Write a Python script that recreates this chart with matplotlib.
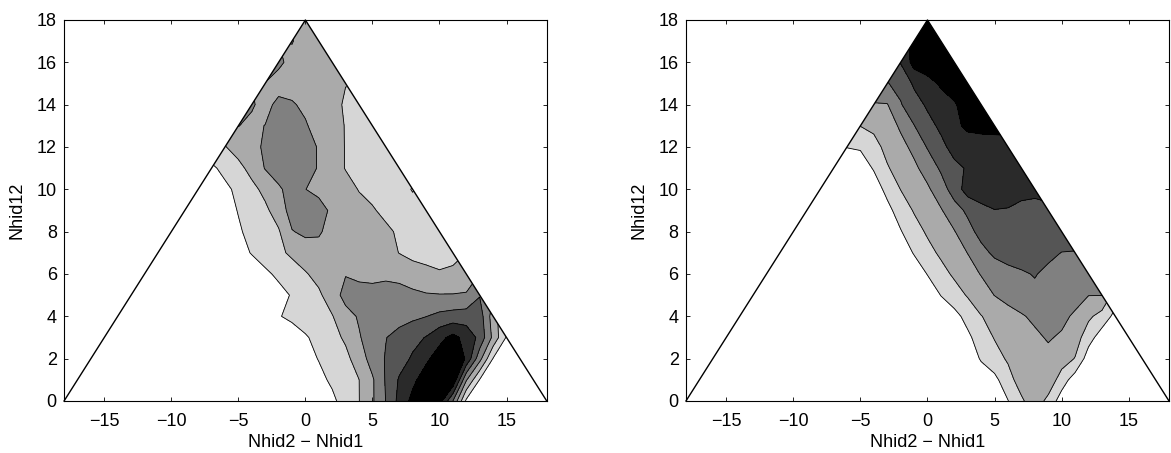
import numpy as np
import matplotlib
matplotlib.use("Agg")
import matplotlib.pyplot as plt
from matplotlib.patches import Polygon

plt.rcParams["font.family"] = ["Liberation Sans", "DejaVu Sans"]

# grid: columns are Nhid2 - Nhid1 = -8..17, rows are Nhid12 = 0..18
# (columns -18..-9 and 18 are empty, they are added as zeros below)
x_stored = np.arange(-8, 18)
x_all = np.arange(-18, 19)
y_all = np.arange(0, 19)

levels = [0.5, 1.5, 2.5, 3.5, 4.5, 5.5]
grays = ["#ffffff", "#d6d6d6", "#aaaaaa", "#808080", "#555555", "#2a2a2a", "#000000"]

xticks = [-15, -10, -5, 0, 5, 10, 15]
yticks = list(range(0, 19, 2))
xlabel = "Nhid2 \u2212 Nhid1"
ylabel = "Nhid12"

left_z = [
    [0, 0, 0, 0, 0, 0, 0, 0, 0, 0, 0.3, 0.9, 1.48, 2.37, 3.52, 4.8, 5.8, 6.5, 6.0, 3.5, 0.3, 0, 0, 0, 0, 0],
    [0, 0, 0, 0, 0, 0, 0, 0, 0, 0.25, 0.66, 1.07, 1.49, 2.37, 3.6, 4.6, 5.27, 6.0, 6.4, 6.4, 2.6, 0.45, 0, 0, 0, 0],
    [0, 0, 0, 0, 0, 0, 0, 0, 0.18, 0.54, 0.9, 1.25, 1.96, 2.93, 3.57, 4.09, 4.63, 5.3, 6.0, 6.5, 5.36, 2.84, 0.45, 0, 0, 0],
    [0, 0, 0, 0, 0, 0, 0, 0, 0.4, 0.79, 1.19, 1.65, 2.42, 2.96, 3.47, 3.84, 4.2, 4.55, 5.19, 5.8, 5.15, 4.23, 2.25, 0.4, 0, 0],
    [0, 0, 0, 0, 0, 0.19, 0.44, 0.71, 0.96, 1.2, 1.45, 2.14, 2.6, 2.78, 2.95, 3.13, 3.3, 3.48, 3.75, 3.9, 4.0, 4.0, 2.0, 0.5, 0, 0],
    [0, 0, 0, 0, 0, 0, 0.2, 0.57, 0.95, 1.34, 2.0, 2.85, 3.0, 3.0, 3.1, 3.0, 2.7, 2.58, 2.55, 2.55, 2.58, 3.45, 2.5, 0, 0, 0],
    [0, 0, 0, 0, 0, 0.32, 0.68, 1.05, 1.42, 1.8, 2.0, 2.45, 2.2, 2.1, 2.2, 2.1, 2.0, 1.8, 1.6, 1.7, 2.0, 2.5, 2.5, 0, 0, 0],
    [0, 0, 0, 0.18, 0.55, 0.92, 1.3, 1.67, 2.0, 2.2, 2.3, 2.2, 2.1, 2.0, 1.8, 1.48, 1.2, 1.1, 1.1, 1.2, 1.5, 2.0, 2.0, 0, 0, 0],
    [0, 0, 0, 0.39, 0.75, 1.1, 1.4, 2.45, 2.7, 2.6, 2.2, 2.1, 2.0, 1.9, 1.7, 1.35, 1.1, 1.1, 1.1, 1.2, 1.5, 2.0, 0, 0, 0, 0],
    [0, 0, 0.16, 0.54, 0.92, 1.3, 1.96, 2.9, 3.1, 3.1, 2.2, 2.0, 1.85, 1.6, 1.25, 1.1, 1.1, 1.2, 1.2, 1.2, 1.2, 1.2, 1.2, 1.2, 1.2, 1.2],
    [0, 0, 0.26, 0.75, 1.23, 1.76, 2.34, 2.9, 2.52, 2.1, 2.0, 1.9, 1.45, 1.2, 1.1, 1.1, 0.4, 1.2, 1.2, 1.2, 1.2, 1.2, 1.2, 1.2, 1.2, 1.2],
    [0, 0.3, 0.8, 1.22, 1.82, 2.55, 3.0, 3.1, 3.0, 2.4, 2.0, 1.45, 1.2, 1.1, 1.1, 1.2, 1.2, 1.2, 1.2, 1.2, 1.2, 1.2, 1.2, 1.2, 1.2, 1.2],
    [0.5, 1.2, 1.45, 1.9, 2.2, 2.65, 3.1, 3.2, 3.0, 2.4, 2.0, 1.45, 1.2, 1.1, 1.2, 1.2, 1.2, 1.2, 1.2, 1.2, 1.2, 1.2, 1.2, 1.2, 1.2, 1.2],
    [0.8, 1.5, 2.0, 2.52, 2.3, 2.52, 3.1, 3.2, 2.6, 2.1, 1.9, 1.45, 1.2, 1.2, 1.2, 1.2, 1.2, 1.2, 1.2, 1.2, 1.2, 1.2, 1.2, 1.2, 1.2, 1.2],
    [1.2, 2.0, 2.5, 2.6, 2.6, 2.2, 2.75, 2.6, 2.3, 2.0, 1.75, 1.4, 1.2, 1.2, 1.2, 1.2, 1.2, 1.2, 1.2, 1.2, 1.2, 1.2, 1.2, 1.2, 1.2, 1.2],
    [2.0, 2.3, 2.5, 2.5, 2.5, 2.49, 2.1, 2.1, 2.0, 2.0, 1.9, 1.52, 1.52, 1.52, 1.52, 1.52, 1.52, 1.52, 1.52, 1.52, 1.52, 1.52, 1.52, 1.52, 1.52, 1.52],
    [2.5, 2.5, 2.5, 2.5, 2.6, 2.7, 2.7, 2.2, 2.1, 2.0, 2.0, 2.0, 2.0, 2.0, 2.0, 2.0, 2.0, 2.0, 2.0, 2.0, 2.0, 2.0, 2.0, 2.0, 2.0, 2.0],
    [2.5, 2.5, 2.5, 2.5, 2.5, 2.5, 2.5, 2.55, 2.1, 2.0, 2.0, 2.0, 2.0, 2.0, 2.0, 2.0, 2.0, 2.0, 2.0, 2.0, 2.0, 2.0, 2.0, 2.0, 2.0, 2.0],
    [2.3, 2.3, 2.3, 2.3, 2.3, 2.3, 2.3, 2.3, 2.1, 2.0, 2.0, 2.0, 2.0, 2.0, 2.0, 2.0, 2.0, 2.0, 2.0, 2.0, 2.0, 2.0, 2.0, 2.0, 2.0, 2.0],
]

right_z = [
    [0, 0, 0, 0, 0, 0, 0, 0, 0, 0, 0, 0, 0, 0, 0.47, 1.33, 2.1, 1.2, 0, 0, 0, 0, 0, 0, 0, 0],
    [0, 0, 0, 0, 0, 0, 0, 0, 0, 0, 0, 0, 0, 0.24, 1.11, 1.98, 2.3, 2.2, 1.0, 0, 0, 0, 0, 0, 0, 0],
    [0, 0, 0, 0, 0, 0, 0, 0, 0, 0, 0, 0, 0.58, 1.1, 1.63, 2.0, 2.2, 2.2, 2.0, 1.45, 0, 0, 0, 0, 0, 0],
    [0, 0, 0, 0, 0, 0, 0, 0, 0, 0, 0, 0.3, 0.97, 1.56, 1.86, 2.15, 2.3, 2.6, 2.35, 2.0, 0.9, 0, 0, 0, 0, 0],
    [0, 0, 0, 0, 0, 0, 0, 0, 0, 0, 0.18, 0.83, 1.47, 1.8, 2.05, 2.4, 2.7, 3.0, 2.8, 2.3, 1.7, 1.1, 0.2, 0, 0, 0],
    [0, 0, 0, 0, 0, 0, 0, 0, 0, 0.52, 1.05, 1.59, 2.05, 2.52, 2.9, 3.1, 3.3, 3.3, 3.2, 3.0, 2.52, 2.52, 1.0, 0, 0, 0],
    [0, 0, 0, 0, 0, 0, 0, 0, 0.53, 1.14, 1.67, 2.1, 2.55, 2.9, 3.2, 3.4, 3.55, 3.3, 3.1, 3.0, 3.0, 3.0, 2.0, 0, 0, 0],
    [0, 0, 0, 0, 0, 0, 0, 0.56, 1.17, 1.68, 2.1, 2.52, 3.17, 3.7, 3.9, 3.9, 3.9, 3.7, 3.48, 3.45, 3.45, 3.0, 0, 0, 0, 0],
    [0, 0, 0, 0, 0, 0, 0.44, 1.08, 1.64, 2.05, 2.45, 3.14, 3.85, 4.2, 4.3, 4.35, 4.3, 4.1, 4.0, 4.0, 3.5, 0, 0, 0, 0, 0],
    [0, 0, 0, 0, 0, 0.22, 0.93, 1.58, 2.0, 2.42, 3.07, 3.7, 4.2, 4.47, 4.4, 4.2, 4.1, 4.3, 4.3, 4.3, 4.0, 0, 0, 0, 0, 0],
    [0, 0, 0, 0, 0, 0.77, 1.52, 1.94, 2.35, 3.02, 3.97, 4.94, 5.1, 5.1, 5.2, 4.85, 4.8, 4.8, 4.8, 4.8, 4.8, 0, 0, 0, 0, 0],
    [0, 0, 0, 0, 0.58, 1.42, 1.88, 2.3, 2.9, 3.65, 4.25, 4.6, 5.1, 5.2, 5.2, 5.2, 5.2, 5.2, 5.2, 5.2, 0, 0, 0, 0, 0, 0],
    [0, 0, 0.52, 0.6, 1.19, 1.76, 2.2, 2.75, 3.57, 4.23, 4.85, 5.0, 5.1, 5.15, 5.2, 5.4, 5.4, 5.4, 5.4, 0, 0, 0, 0, 0, 0, 0],
    [0, 0.5, 1.0, 1.52, 1.7, 2.02, 2.65, 3.47, 4.17, 4.7, 5.27, 5.7, 5.75, 5.75, 5.75, 5.75, 5.75, 5.75, 0, 0, 0, 0, 0, 0, 0, 0],
    [0, 0.5, 1.5, 2.0, 2.45, 2.45, 3.43, 4.1, 4.65, 5.0, 5.4, 5.95, 6.1, 6.1, 6.1, 6.1, 6.1, 0, 0, 0, 0, 0, 0, 0, 0, 0],
    [0, 0.5, 1.5, 2.5, 3.0, 3.45, 3.8, 4.65, 5.1, 5.65, 6.0, 6.1, 6.1, 6.1, 6.1, 6.1, 0, 0, 0, 0, 0, 0, 0, 0, 0, 0],
    [0, 0.5, 1.5, 2.5, 3.5, 4.0, 4.55, 5.9, 6.2, 6.3, 6.3, 6.3, 6.3, 6.3, 6.3, 0, 0, 0, 0, 0, 0, 0, 0, 0, 0, 0],
    [0, 0.5, 1.5, 2.5, 3.5, 4.5, 5.0, 5.8, 6.3, 6.3, 6.3, 6.3, 6.3, 6.3, 0, 0, 0, 0, 0, 0, 0, 0, 0, 0, 0, 0],
    [0, 0.5, 1.5, 2.5, 3.5, 4.5, 5.5, 6.0, 6.4, 6.4, 6.4, 6.4, 6.4, 0, 0, 0, 0, 0, 0, 0, 0, 0, 0, 0, 0, 0],
]


def full_grid(rows):
    z = np.zeros((len(y_all), len(x_all)))
    start = int(x_stored[0] - x_all[0])
    z[:, start:start + len(x_stored)] = np.array(rows, dtype=float)
    return z


def draw_panel(ax, rows):
    z = full_grid(rows)
    tri = Polygon([(-18, 0), (0, 18), (18, 0)], closed=True, transform=ax.transData)
    cf = ax.contourf(x_all, y_all, z, levels=[-10] + levels + [20], colors=grays)
    cl = ax.contour(x_all, y_all, z, levels=levels, colors="k", linewidths=0.6)
    cf.set_clip_path(tri)
    cl.set_clip_path(tri)
    ax.plot([-18, 0, 18], [0, 18, 0], color="k", lw=1.0, clip_on=False)

    ax.set_xlim(-18, 18)
    ax.set_ylim(0, 18)
    ax.set_xticks(xticks)
    ax.set_yticks(yticks)
    ax.tick_params(direction="in", top=True, right=True, length=3, width=0.6, labelsize=13)
    ax.tick_params(axis="x", pad=8.6)
    ax.tick_params(axis="y", pad=5.2)
    for s in ax.spines.values():
        s.set_linewidth(0.8)
    ax.set_xlabel(xlabel, fontsize=13, labelpad=3)
    ax.set_ylabel(ylabel, fontsize=13, labelpad=8)


fig = plt.figure(figsize=(11.71, 4.53), dpi=100)
ax1 = fig.add_axes([0.0547, 0.1148, 0.4122, 0.8411])
ax2 = fig.add_axes([0.5858, 0.1148, 0.4125, 0.8411])
draw_panel(ax1, left_z)
draw_panel(ax2, right_z)

fig.savefig("out.png", dpi=100)
